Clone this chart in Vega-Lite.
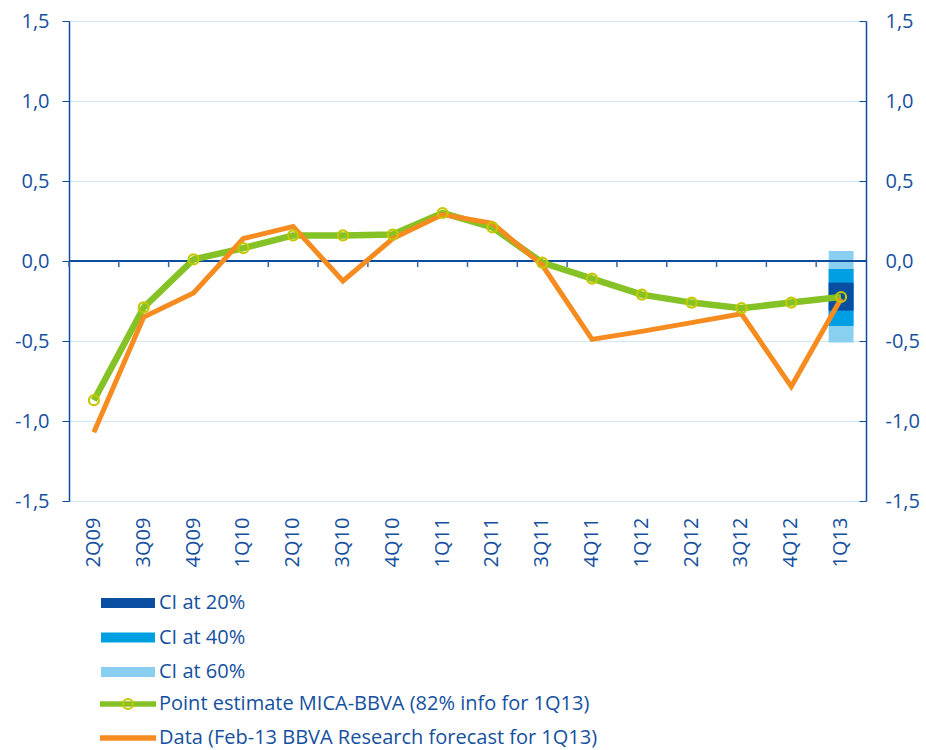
{
  "$schema": "https://vega.github.io/schema/vega-lite/v6.json",
  "width": 797,
  "height": 480,
  "autosize": {"type": "none"},
  "padding": {"left": 69, "top": 21, "right": 60, "bottom": 249},
  "config": {"view": {"stroke": null}, "font": "Open Sans"},
  "datasets": {
    "ci": [
      {"q": "1Q13", "series": "CI at 60%", "lo": -0.51, "hi": 0.0625},
      {"q": "1Q13", "series": "CI at 40%", "lo": -0.406, "hi": -0.05},
      {"q": "1Q13", "series": "CI at 20%", "lo": -0.31, "hi": -0.135}
    ],
    "est": [
      {"q": "2Q09", "value": -0.87, "series": "Point estimate MICA-BBVA (82% info for 1Q13)"},
      {"q": "3Q09", "value": -0.29, "series": "Point estimate MICA-BBVA (82% info for 1Q13)"},
      {"q": "4Q09", "value": 0.01, "series": "Point estimate MICA-BBVA (82% info for 1Q13)"},
      {"q": "1Q10", "value": 0.08, "series": "Point estimate MICA-BBVA (82% info for 1Q13)"},
      {"q": "2Q10", "value": 0.16, "series": "Point estimate MICA-BBVA (82% info for 1Q13)"},
      {"q": "3Q10", "value": 0.16, "series": "Point estimate MICA-BBVA (82% info for 1Q13)"},
      {"q": "4Q10", "value": 0.165, "series": "Point estimate MICA-BBVA (82% info for 1Q13)"},
      {"q": "1Q11", "value": 0.3, "series": "Point estimate MICA-BBVA (82% info for 1Q13)"},
      {"q": "2Q11", "value": 0.21, "series": "Point estimate MICA-BBVA (82% info for 1Q13)"},
      {"q": "3Q11", "value": -0.01, "series": "Point estimate MICA-BBVA (82% info for 1Q13)"},
      {"q": "4Q11", "value": -0.11, "series": "Point estimate MICA-BBVA (82% info for 1Q13)"},
      {"q": "1Q12", "value": -0.21, "series": "Point estimate MICA-BBVA (82% info for 1Q13)"},
      {"q": "2Q12", "value": -0.26, "series": "Point estimate MICA-BBVA (82% info for 1Q13)"},
      {"q": "3Q12", "value": -0.295, "series": "Point estimate MICA-BBVA (82% info for 1Q13)"},
      {"q": "4Q12", "value": -0.26, "series": "Point estimate MICA-BBVA (82% info for 1Q13)"},
      {"q": "1Q13", "value": -0.225, "series": "Point estimate MICA-BBVA (82% info for 1Q13)"}
    ],
    "obs": [
      {"q": "2Q09", "value": -1.07, "series": "Data (Feb-13 BBVA Research forecast for 1Q13)"},
      {"q": "3Q09", "value": -0.35, "series": "Data (Feb-13 BBVA Research forecast for 1Q13)"},
      {"q": "4Q09", "value": -0.2, "series": "Data (Feb-13 BBVA Research forecast for 1Q13)"},
      {"q": "1Q10", "value": 0.14, "series": "Data (Feb-13 BBVA Research forecast for 1Q13)"},
      {"q": "2Q10", "value": 0.215, "series": "Data (Feb-13 BBVA Research forecast for 1Q13)"},
      {"q": "3Q10", "value": -0.125, "series": "Data (Feb-13 BBVA Research forecast for 1Q13)"},
      {"q": "4Q10", "value": 0.14, "series": "Data (Feb-13 BBVA Research forecast for 1Q13)"},
      {"q": "1Q11", "value": 0.29, "series": "Data (Feb-13 BBVA Research forecast for 1Q13)"},
      {"q": "2Q11", "value": 0.235, "series": "Data (Feb-13 BBVA Research forecast for 1Q13)"},
      {"q": "3Q11", "value": -0.025, "series": "Data (Feb-13 BBVA Research forecast for 1Q13)"},
      {"q": "4Q11", "value": -0.49, "series": "Data (Feb-13 BBVA Research forecast for 1Q13)"},
      {"q": "1Q12", "value": -0.44, "series": "Data (Feb-13 BBVA Research forecast for 1Q13)"},
      {"q": "2Q12", "value": -0.385, "series": "Data (Feb-13 BBVA Research forecast for 1Q13)"},
      {"q": "3Q12", "value": -0.33, "series": "Data (Feb-13 BBVA Research forecast for 1Q13)"},
      {"q": "4Q12", "value": -0.785, "series": "Data (Feb-13 BBVA Research forecast for 1Q13)"},
      {"q": "1Q13", "value": -0.235, "series": "Data (Feb-13 BBVA Research forecast for 1Q13)"}
    ]
  },
  "layer": [
    {
      "data": {"name": "ci"},
      "mark": {"type": "bar", "width": {"band": 0.5}},
      "encoding": {
        "x": {
          "field": "q", "type": "nominal",
          "scale": {"domain": ["2Q09","3Q09","4Q09","1Q10","2Q10","3Q10","4Q10","1Q11","2Q11","3Q11","4Q11","1Q12","2Q12","3Q12","4Q12","1Q13"], "paddingInner": 0, "paddingOuter": 0},
          "axis": {"orient": "bottom", "title": null, "labelAngle": -90, "labelFontSize": 20, "labelColor": "#15509e", "ticks": false, "domain": false, "grid": false, "labelPadding": 16}
        },
        "y": {
          "field": "lo", "type": "quantitative",
          "scale": {"domain": [-1.5, 1.5], "nice": false, "zero": false},
          "axis": {"orient": "left", "title": null, "values": [-1.5, -1, -0.5, 0, 0.5, 1, 1.5], "labelExpr": "replace(replace(format(datum.value, '.1f'), '.', ','), '\u2212', '-')", "grid": true, "gridColor": "#cfe6f6", "gridWidth": 1.2, "domainColor": "#0d4c9e", "domainWidth": 1.5, "tickColor": "#0d4c9e", "tickSize": 7, "tickWidth": 1, "labelColor": "#15509e", "labelFontSize": 20, "labelPadding": 13}
        },
        "y2": {"field": "hi"},
        "fill": {
          "field": "series", "type": "nominal",
          "scale": {"domain": ["CI at 20%", "CI at 40%", "CI at 60%"], "range": ["#0a4ea1", "#009fe3", "#89cff0"]},
          "legend": {"orient": "none", "legendX": 49, "legendY": 572, "title": null, "direction": "vertical", "symbolType": "M-5.4,-1H5.4V1H-5.4Z", "symbolSize": 100, "symbolStrokeWidth": 0, "labelFontSize": 20, "labelColor": "#15509e", "labelOffset": 21, "rowPadding": 14.5, "padding": 0, "labelLimit": 700}
        }
      }
    },
    {
      "data": {"name": "est"},
      "mark": {"type": "rule", "color": "#0d4c9e", "strokeWidth": 1.5},
      "encoding": {"y": {"datum": 0, "type": "quantitative", "axis": null}}
    },
    {
      "data": {"name": "est"},
      "mark": {"type": "rule", "color": "#2f65ad", "strokeWidth": 1.5},
      "encoding": {
        "x": {"field": "q", "type": "nominal", "bandPosition": 0, "axis": null},
        "y": {"datum": 0, "type": "quantitative", "axis": null},
        "y2": {"datum": -0.0375}
      }
    },
    {
      "data": {"name": "est"},
      "mark": {"type": "line", "strokeWidth": 6.5},
      "encoding": {
        "x": {"field": "q", "type": "nominal", "axis": null},
        "y": {
          "field": "value", "type": "quantitative",
          "axis": {"orient": "right", "title": null, "values": [-1.5, -1, -0.5, 0, 0.5, 1, 1.5], "labelExpr": "replace(replace(format(datum.value, '.1f'), '.', ','), '\u2212', '-')", "grid": false, "domainColor": "#0d4c9e", "domainWidth": 1.5, "tickColor": "#0d4c9e", "tickSize": -7, "labelColor": "#15509e", "labelFontSize": 20, "labelPadding": 26}
        },
        "stroke": {
          "field": "series", "type": "nominal",
          "scale": {"domain": ["Point estimate MICA-BBVA (82% info for 1Q13)", "Data (Feb-13 BBVA Research forecast for 1Q13)"], "range": ["#84c225", "#f68b1f"]},
          "legend": {"orient": "none", "legendX": 49, "legendY": 673, "title": null, "direction": "vertical", "symbolType": "M-5.6,0H5.6", "symbolSize": 100, "symbolStrokeWidth": 5.5, "labelFontSize": 20, "labelColor": "#15509e", "labelOffset": 21, "rowPadding": 12, "padding": 0, "labelLimit": 700}
        }
      }
    },
    {
      "data": {"name": "obs"},
      "mark": {"type": "line", "strokeWidth": 5},
      "encoding": {
        "x": {"field": "q", "type": "nominal", "axis": null},
        "y": {"field": "value", "type": "quantitative", "axis": null},
        "stroke": {"field": "series", "type": "nominal"}
      }
    },
    {
      "data": {"name": "est"},
      "mark": {"type": "point", "filled": false, "size": 100, "strokeWidth": 2.2, "opacity": 1, "color": "#c5c700"},
      "encoding": {
        "x": {"field": "q", "type": "nominal", "axis": null},
        "y": {"field": "value", "type": "quantitative", "axis": null},
        "shape": {
          "field": "series", "type": "nominal",
          "scale": {"domain": ["Point estimate MICA-BBVA (82% info for 1Q13)"], "range": ["circle"]},
          "legend": {"orient": "none", "legendX": 49, "legendY": 673, "title": null, "direction": "vertical", "symbolSize": 100, "symbolStrokeWidth": 2.2, "symbolStrokeColor": "#c5c700", "symbolFillColor": "transparent", "labelFontSize": 20, "labelOpacity": 0, "labelOffset": 21, "padding": 0, "labelLimit": 700}
        }
      }
    }
  ],
  "resolve": {"axis": {"x": "independent", "y": "independent"}}
}
